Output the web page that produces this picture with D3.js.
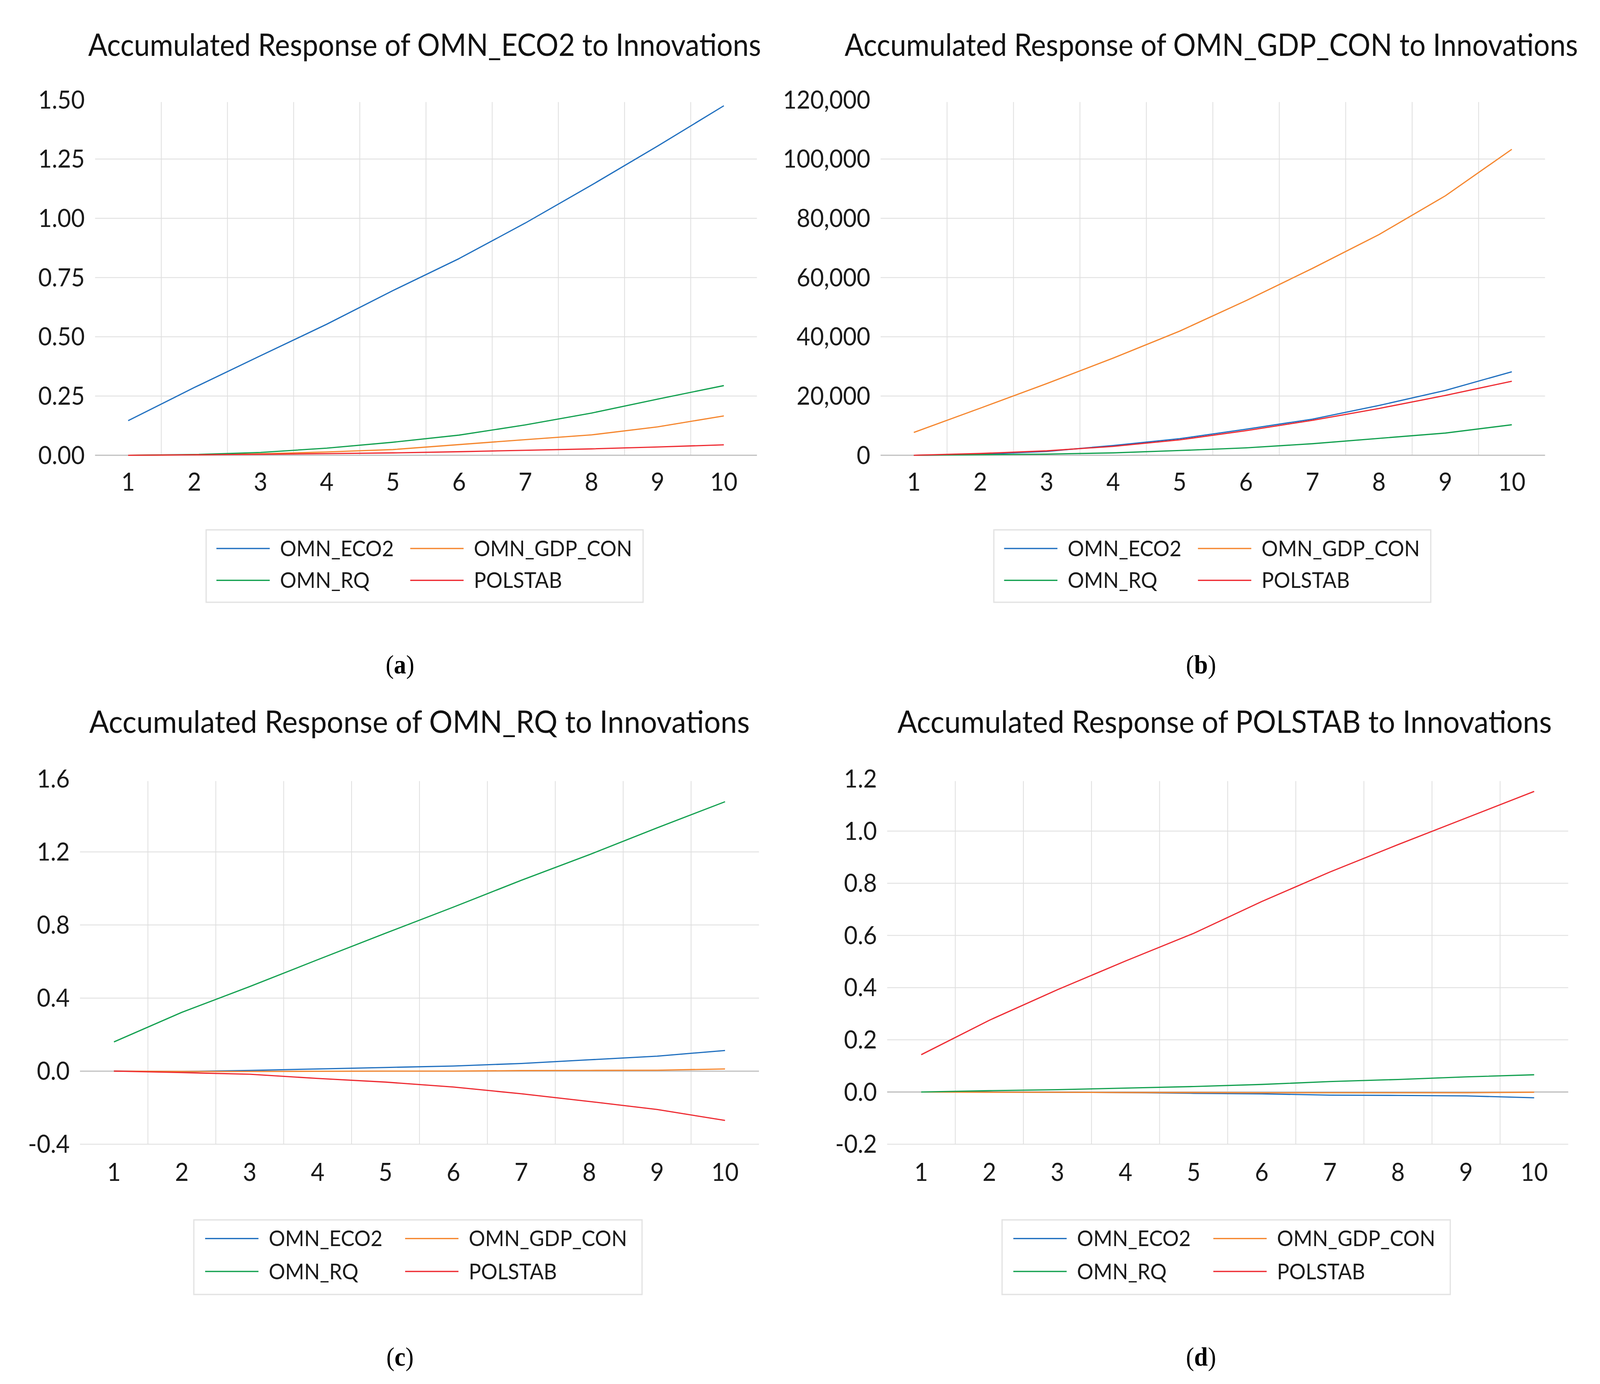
<!DOCTYPE html>
<html>
<head>
<meta charset="utf-8">
<script src="https://cdn.jsdelivr.net/npm/d3@7"></script>
<style>
  html, body { margin: 0; padding: 0; background: #fff; overflow: hidden; }
  svg { display: block; width: 100vw; height: 100vh; }
</style>
</head>
<body>
<div id="chart"></div>
<script>
// periods on the x axis
const periods = [1, 2, 3, 4, 5, 6, 7, 8, 9, 10];
const seriesNames = ["OMN_ECO2", "OMN_GDP_CON", "OMN_RQ", "POLSTAB"];
const seriesColors = ["#1f6fbf", "#f5862e", "#12a04f", "#ee2a31"];

// (a) response of OMN_ECO2
const ecoFromEco = [0.146, 0.286, 0.42, 0.553, 0.695, 0.83, 0.98, 1.14, 1.305, 1.475];
const ecoFromGdp = [0, 0.002, 0.006, 0.014, 0.024, 0.045, 0.066, 0.086, 0.12, 0.166];
const ecoFromRq = [0, 0.003, 0.012, 0.03, 0.055, 0.085, 0.128, 0.178, 0.237, 0.294];
const ecoFromPol = [0, 0.002, 0.004, 0.007, 0.01, 0.015, 0.021, 0.027, 0.035, 0.044];

// (b) response of OMN_GDP_CON
const gdpFromEco = [0, 300, 1300, 3300, 5600, 8800, 12200, 16800, 21900, 28200];
const gdpFromGdp = [7700, 15900, 24200, 32800, 41900, 52200, 63100, 74500, 87600, 103300];
const gdpFromRq = [0, 200, 400, 800, 1600, 2500, 3900, 5700, 7500, 10300];
const gdpFromPol = [0, 600, 1500, 3000, 5200, 8300, 11800, 15800, 20200, 25000];

// (c) response of OMN_RQ
const rqFromEco = [0, -0.003, 0.004, 0.012, 0.02, 0.028, 0.042, 0.062, 0.082, 0.113];
const rqFromGdp = [0, -0.002, -0.002, -0.001, 0, 0, 0.003, 0.004, 0.005, 0.012];
const rqFromRq = [0.16, 0.322, 0.463, 0.61, 0.755, 0.898, 1.045, 1.185, 1.332, 1.475];
const rqFromPol = [0, -0.008, -0.017, -0.04, -0.06, -0.087, -0.124, -0.166, -0.21, -0.27];

// (d) response of POLSTAB
const polFromEco = [0, 0, -0.001, -0.002, -0.005, -0.007, -0.012, -0.013, -0.015, -0.022];
const polFromGdp = [0, -0.001, -0.001, -0.002, -0.002, -0.003, -0.003, -0.003, -0.003, -0.001];
const polFromRq = [0, 0.005, 0.009, 0.015, 0.021, 0.029, 0.04, 0.048, 0.058, 0.066];
const polFromPol = [0.143, 0.275, 0.392, 0.502, 0.608, 0.73, 0.843, 0.948, 1.05, 1.152];

// y tick values
const ticksA = [0, 0.25, 0.5, 0.75, 1.0, 1.25, 1.5];
const ticksB = [0, 20000, 40000, 60000, 80000, 100000, 120000];
const ticksC = [-0.4, 0, 0.4, 0.8, 1.2, 1.6];
const ticksD = [-0.2, 0, 0.2, 0.4, 0.6, 0.8, 1.0, 1.2];

const locale = d3.formatLocale({decimal: ".", thousands: ",", grouping: [3], currency: ["$", ""], minus: "-"});

// drawn in a 1560-wide frame, stretched to whatever the window gives
const W = 1560, H = 1261.6;
const svg = d3.select("#chart").append("svg")
    .attr("viewBox", `0 0 ${W} ${H}`)
    .attr("preserveAspectRatio", "none");

svg.append("rect").attr("width", W).attr("height", H).attr("fill", "#fff");

const panels = [
    { title: "Accumulated Response of OMN_ECO2 to Innovations", tx: 414, ty: 51, tlen: 656,
      series: [ecoFromEco, ecoFromGdp, ecoFromRq, ecoFromPol], ticks: ticksA, fmt: locale.format(".2f"),
      x0: 92.7, x1: 738, yBot: 415, yTop: 91, xlabY: 448,
      lg: { x: 201, y: 483, w: 426, h: 66, rows: [500, 529], c1: 10, c2: 199 },
      cap: "a", cx: 390, cy: 614 },
    { title: "Accumulated Response of OMN_GDP_CON to Innovations", tx: 1181, ty: 51, tlen: 715,
      series: [gdpFromEco, gdpFromGdp, gdpFromRq, gdpFromPol], ticks: ticksB, fmt: locale.format(","),
      x0: 858.6, x1: 1506.4, yBot: 415, yTop: 91, xlabY: 448,
      lg: { x: 969, y: 483, w: 426, h: 66, rows: [500, 529], c1: 10, c2: 199 },
      cap: "b", cx: 1171, cy: 614 },
    { title: "Accumulated Response of OMN_RQ to Innovations", tx: 409, ty: 668, tlen: 644,
      series: [rqFromEco, rqFromGdp, rqFromRq, rqFromPol], ticks: ticksC, fmt: locale.format(".1f"),
      x0: 78, x1: 740, yBot: 1043, yTop: 710, xlabY: 1077,
      lg: { x: 189, y: 1112, w: 437, h: 68, rows: [1129, 1159], c1: 11, c2: 206 },
      cap: "c", cx: 390, cy: 1245 },
    { title: "Accumulated Response of POLSTAB to Innovations", tx: 1194, ty: 668, tlen: 638,
      series: [polFromEco, polFromGdp, polFromRq, polFromPol], ticks: ticksD, fmt: locale.format(".1f"),
      x0: 865, x1: 1529, yBot: 1043, yTop: 710, xlabY: 1077,
      lg: { x: 977, y: 1112, w: 437, h: 68, rows: [1129, 1159], c1: 11, c2: 206 },
      cap: "d", cx: 1171, cy: 1245 }
];

const font = "Lato, 'Open Sans', sans-serif";

panels.forEach(p => {
    const g = svg.append("g");

    const x = d3.scaleBand().domain(periods).range([p.x0, p.x1]).padding(0);
    const y = d3.scaleLinear().domain([p.ticks[0], p.ticks[p.ticks.length - 1]]).range([p.yBot, p.yTop]);

    // horizontal gridlines (no line on the top value, like the original)
    g.selectAll(".hgrid")
        .data(p.ticks.slice(0, -1))
        .enter().append("line")
        .attr("x1", p.x0).attr("x2", p.x1)
        .attr("y1", d => y(d)).attr("y2", d => y(d))
        .attr("stroke", "#e0e0e0").attr("stroke-width", 0.8);

    // vertical gridlines between categories
    g.selectAll(".vgrid")
        .data(periods.slice(1))
        .enter().append("line")
        .attr("x1", d => x(d)).attr("x2", d => x(d))
        .attr("y1", p.yTop + 2).attr("y2", p.yBot)
        .attr("stroke", "#e0e0e0").attr("stroke-width", 0.8);

    // zero axis line
    g.append("line")
        .attr("x1", p.x0).attr("x2", p.x1)
        .attr("y1", y(0)).attr("y2", y(0))
        .attr("stroke", "#bdbdbd").attr("stroke-width", 1);

    // y axis labels
    const yAxis = g.append("g")
        .attr("transform", `translate(${p.x0 - 10},0)`)
        .call(d3.axisLeft(y).tickValues(p.ticks).tickFormat(p.fmt).tickSize(0).tickPadding(0));
    yAxis.select(".domain").remove();
    yAxis.selectAll("text").attr("font-family", font).attr("font-size", 23).attr("fill", "#1a1a1a");

    // x axis labels
    const xAxis = g.append("g")
        .attr("transform", `translate(0,${p.xlabY - 17})`)
        .call(d3.axisBottom(x).tickSize(0).tickPadding(0));
    xAxis.select(".domain").remove();
    xAxis.selectAll("text").attr("font-family", font).attr("font-size", 23).attr("fill", "#1a1a1a");

    // series lines
    const line = d3.line()
        .x((d, i) => x(periods[i]) + x.bandwidth() / 2)
        .y(d => y(d));
    p.series.forEach((vals, k) => {
        g.append("path")
            .datum(vals)
            .attr("d", line)
            .attr("fill", "none")
            .attr("stroke", seriesColors[k])
            .attr("stroke-width", 1.1)
            .attr("stroke-linejoin", "round");
    });

    // title
    g.append("text")
        .attr("x", p.tx).attr("y", p.ty)
        .attr("text-anchor", "middle")
        .attr("font-family", font).attr("font-size", 28).attr("fill", "#111")
        .attr("textLength", p.tlen).attr("lengthAdjust", "spacingAndGlyphs")
        .text(p.title);

    // legend
    const lg = p.lg;
    g.append("rect")
        .attr("x", lg.x).attr("y", lg.y).attr("width", lg.w).attr("height", lg.h)
        .attr("fill", "#fff").attr("stroke", "#e3e3e3").attr("stroke-width", 1.2);
    seriesNames.forEach((name, k) => {
        const col = k % 2 === 0 ? lg.c1 : lg.c2;
        const ry = lg.rows[Math.floor(k / 2)];
        g.append("line")
            .attr("x1", lg.x + col).attr("x2", lg.x + col + 52)
            .attr("y1", ry).attr("y2", ry)
            .attr("stroke", seriesColors[k]).attr("stroke-width", 1.1);
        g.append("text")
            .attr("x", lg.x + col + 62).attr("y", ry)
            .attr("dy", "0.35em")
            .attr("font-family", font).attr("font-size", 20).attr("fill", "#1a1a1a")
            .text(name);
    });

    // caption
    const cap = g.append("text")
        .attr("x", p.cx).attr("y", p.cy)
        .attr("text-anchor", "middle")
        .attr("font-family", "'Liberation Serif', 'DejaVu Serif', serif")
        .attr("font-size", 24).attr("fill", "#000");
    cap.append("tspan").text("(");
    cap.append("tspan").attr("font-weight", "bold").text(p.cap);
    cap.append("tspan").text(")");
});
</script>
</body>
</html>
